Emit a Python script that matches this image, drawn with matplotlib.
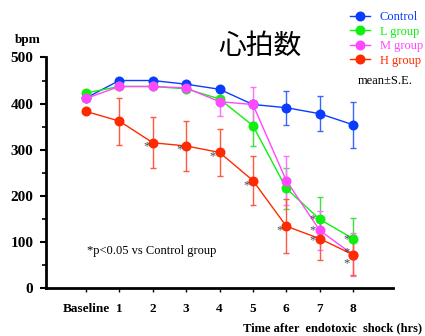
import numpy as np
import matplotlib
matplotlib.use("Agg")
import matplotlib.pyplot as plt

# data
time_labels = ["Baseline", "1", "2", "3", "4", "5", "6", "7", "8"]

control_mean = [412, 450, 450, 442, 431, 398, 391, 378, 354]
control_se = [0, 0, 0, 0, 0, 0, 37, 38, 50]

l_mean = [423, 437, 437, 432, 410, 352, 216, 149, 107]
l_se = [0, 0, 0, 0, 0, 45, 44, 49, 44]

m_mean = [411, 437, 437, 434, 404, 398, 233, 125, 72]
m_se = [0, 0, 0, 0, 31, 37, 54, 42, 47]

h_mean = [383, 362, 315, 308, 294, 233, 134, 107, 72]
h_se = [0, 51, 55, 55, 51, 53, 59, 46, 43]

# significance asterisks: time index and the bpm level where each one sits
star_idx = [2, 3, 4, 5, 6, 7, 7, 7, 8, 8, 8]
star_bpm = [308, 301, 286, 222, 124, 148, 124, 103, 106, 78, 54]

serif = "Liberation Serif"

fig = plt.figure(figsize=(4.25, 3.36), dpi=100)
ax = fig.add_axes([0.108, 0.143, 0.817, 0.686])

x = np.arange(len(time_labels))
groups = [
    ("Control", control_mean, control_se, "#0a3cff", "#3a66ff"),
    ("L group", l_mean, l_se, "#10f010", "#40e040"),
    ("M group", m_mean, m_se, "#ff48ff", "#ff70ff"),
    ("H group", h_mean, h_se, "#ff2a00", "#ff5a40"),
]

for name, mean, se, col, ecol in groups:
    se_arr = np.array(se, dtype=float)
    mask = se_arr > 0
    ax.errorbar(x[mask], np.array(mean)[mask], yerr=se_arr[mask], fmt="none",
                ecolor=ecol, elinewidth=1.0, capsize=2.2, capthick=1.0, zorder=2)

for name, mean, se, col, ecol in groups:
    ax.plot(x, mean, "-o", color=col, lw=1.0, markersize=7.2,
            markeredgewidth=0, label=name, zorder=3)

for i, yv in zip(star_idx, star_bpm):
    ax.text(x[i] - 0.2, yv, "*", fontsize=9, color="#444444",
            ha="center", va="center", family=serif, zorder=4)

ax.set_xlim(-1.2, 9.2)
ax.set_ylim(0, 500)
ax.set_yticks([0, 100, 200, 300, 400, 500])
ax.set_yticks(np.arange(50, 500, 100), minor=True)
ax.set_xticks(x)
ax.set_xticklabels(time_labels)
for lab in ax.get_xticklabels():
    lab.set_family(serif)
    lab.set_fontweight("bold")
    lab.set_fontsize(9.5)
for lab in ax.get_yticklabels():
    lab.set_family(serif)
    lab.set_fontweight("bold")
    lab.set_fontsize(11)
ax.tick_params(axis="y", which="major", length=4, width=1.5, pad=5)
ax.tick_params(axis="y", which="minor", length=3, width=1.2)
ax.tick_params(axis="x", length=3, width=1.0, pad=8)

for s in ["top", "right"]:
    ax.spines[s].set_visible(False)
ax.spines["left"].set_linewidth(2)
ax.spines["bottom"].set_linewidth(2)

leg = ax.legend(loc="upper left", bbox_to_anchor=(0.824, 0.967),
                bbox_transform=fig.transFigure, frameon=False,
                prop={"family": serif, "size": 9}, handlelength=1.6,
                handletextpad=0.75, labelspacing=0.2, borderaxespad=0,
                borderpad=0)
for txt, (_, _, _, col, _) in zip(leg.get_texts(), groups):
    txt.set_color(col)

fig.text(0.842, 0.76, "mean\u00b1S.E.", family=serif, fontsize=9,
         ha="left", va="center")
fig.text(0.612, 0.862, "心拍数", family=["Noto Sans CJK JP", "DejaVu Sans"],
         fontsize=20, ha="center", va="center")
fig.text(0.035, 0.88, "bpm", family=serif, fontweight="bold", fontsize=9.5,
         ha="left", va="center")
fig.text(0.205, 0.253, "*p<0.05 vs Control group", family=serif, fontsize=9,
         ha="left", va="center")
fig.text(0.572, 0.024, "Time after  endotoxic  shock (hrs)", family=serif,
         fontweight="bold", fontsize=9, ha="left", va="center")

fig.savefig("out.png", dpi=100)
